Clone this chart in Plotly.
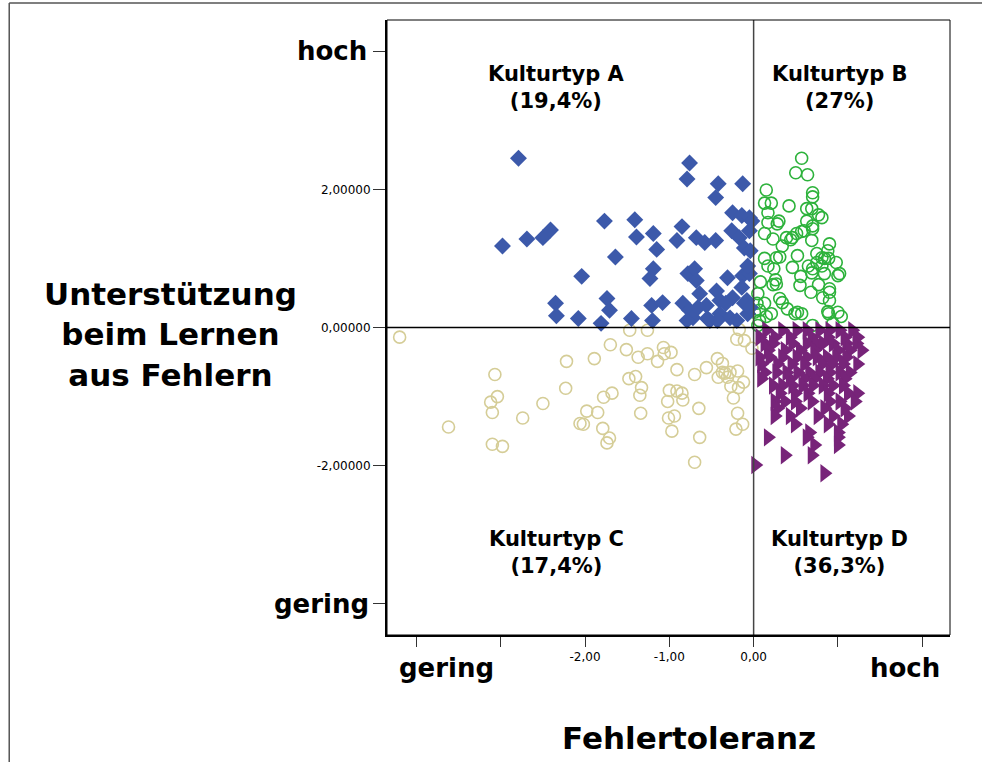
import plotly.graph_objects as go

# ---- data ----
a_x = [-2.79,-2.98,-2.69,-2.50,-2.41,-2.35,-2.34,-2.04,-2.08,-1.77,-1.64,-1.74,-1.71,-1.81,-1.45,-1.41,-1.39,-1.19,-1.15,-1.19,
       -1.23,-1.21,-1.08,-1.20,-0.76,-0.79,-0.42,-0.13,-0.45,-0.85,-0.91,-0.68,-0.58,-0.45,-0.25,-0.14,-0.05,-0.26,-0.17,-0.11,
       -0.05,-0.78,-0.70,-0.68,-0.31,-0.13,-0.05,-0.84,-0.76,-0.72,-0.64,-0.56,-0.44,-0.40,-0.40,-0.28,-0.25,-0.14,-0.08,-0.07,
       -0.79,-0.52,-0.66,-0.43,-0.20,-0.33,-0.55,-0.11,-0.04,-0.07,-0.04,-0.02]
a_y = [2.45,1.18,1.28,1.30,1.41,0.35,0.17,0.74,0.13,1.54,1.02,0.42,0.25,0.06,0.13,1.56,1.31,1.36,1.13,0.85,
       0.71,0.32,0.36,0.10,2.38,2.15,2.08,2.08,1.88,1.46,1.26,1.30,1.23,1.26,1.66,1.62,1.59,1.40,1.30,1.15,
       1.40,0.78,0.85,0.68,0.72,0.75,0.78,0.35,0.25,0.14,0.49,0.32,0.53,0.39,0.20,0.14,0.43,0.58,0.39,0.20,
       0.10,0.10,0.29,0.10,0.10,0.35,0.13,0.35,1.11,0.89,0.29,1.54]

b_x = [0.57,0.50,0.64,0.15,0.70,0.70,0.13,0.21,0.42,0.17,0.63,0.69,0.77,0.81,0.17,0.30,0.28,0.63,0.70,0.70,
       0.60,0.57,0.13,0.23,0.39,0.46,0.44,0.51,0.69,0.34,0.90,0.13,0.27,0.31,0.52,0.75,0.88,0.81,0.84,0.89,
       0.98,0.17,0.24,0.46,0.65,0.70,0.75,0.81,0.84,1.00,1.02,0.69,0.56,0.08,0.26,0.23,0.27,0.55,0.77,0.90,
       0.68,0.90,0.05,0.31,0.34,0.82,0.90,0.13,0.40,0.52,0.57,0.88,1.00,1.04,0.21,0.04,0.01,0.07,0.94,0.70,
       0.15,0.49,0.89,0.05,0.07]
b_y = [2.45,2.24,2.21,1.99,1.95,1.89,1.80,1.80,1.76,1.66,1.72,1.72,1.63,1.59,1.52,1.54,1.50,1.54,1.47,1.43,
       1.40,1.39,1.36,1.28,1.30,1.30,1.27,1.36,1.26,1.18,1.21,1.00,1.01,1.02,1.04,1.07,1.11,1.01,1.00,1.00,
       0.94,0.89,0.85,0.87,0.89,0.85,0.94,0.89,0.78,0.75,0.78,0.79,0.74,0.66,0.69,0.62,0.63,0.61,0.62,0.56,
       0.51,0.51,0.49,0.42,0.36,0.43,0.39,0.35,0.27,0.22,0.20,0.23,0.22,0.16,0.20,0.35,0.22,0.10,0.06,0.03,
       0.16,0.20,0.20,0.03,0.25]

c_x = [-4.20,-3.07,-2.22,-2.23,-3.04,-3.12,-3.10,-2.50,-2.74,-3.62,-3.10,-2.98,-2.06,-1.47,-1.26,-0.17,-0.20,-0.11,-0.02,-1.70,
       -1.51,-1.37,-1.26,-1.14,-1.07,-1.06,-0.98,-1.89,-0.91,-0.70,-0.56,-0.43,-0.37,-0.37,-0.34,-0.28,-0.19,-0.42,-0.31,-0.12,
       -0.27,-0.18,-1.48,-1.40,-1.33,-1.35,-1.00,-0.91,-0.85,-0.84,-1.02,-1.78,-1.68,-1.98,-1.85,-1.34,-2.02,-1.79,-1.71,-1.74,
       -0.65,-1.01,-0.94,-0.97,-0.64,-0.24,-0.19,-0.13,-0.21,-0.70]
c_y = [-0.14,-0.68,-0.49,-0.88,-1.00,-1.08,-1.23,-1.10,-1.31,-1.44,-1.69,-1.72,-1.39,-0.04,-0.04,-0.03,-0.17,-0.19,-0.30,-0.25,
       -0.32,-0.43,-0.38,-0.49,-0.29,-0.38,-0.36,-0.45,-0.61,-0.68,-0.58,-0.45,-0.52,-0.65,-0.66,-0.65,-0.63,-0.72,-0.72,-0.79,
       -0.85,-0.87,-0.74,-0.71,-0.87,-0.98,-0.91,-0.92,-0.95,-1.05,-1.07,-1.01,-0.95,-1.21,-1.23,-1.24,-1.40,-1.46,-1.60,-1.67,
       -1.17,-1.31,-1.28,-1.50,-1.59,-1.02,-1.24,-1.40,-1.47,-1.95]

d_x = [0.15,0.34,0.51,0.63,0.78,0.90,1.02,1.17,
       0.07,0.25,0.43,0.69,0.88,1.08,1.23,
       0.13,0.23,0.46,0.63,0.75,0.82,0.94,1.10,1.22,
       0.17,0.37,0.55,0.72,1.00,1.14,1.28,
       0.07,0.19,0.34,0.51,0.63,0.75,0.87,0.98,1.10,
       0.09,0.28,0.45,0.60,0.81,0.93,1.06,1.23,
       0.13,0.27,0.39,0.52,0.66,0.78,0.90,1.02,1.14,
       0.09,0.43,0.60,0.72,0.87,1.08,
       0.23,0.34,0.46,0.58,0.70,0.82,0.94,1.06,
       0.31,0.49,0.64,0.88,1.12,1.23,
       0.25,0.37,0.49,0.69,0.90,1.02,1.20,
       0.28,0.55,0.84,1.08,
       0.25,0.43,0.76,0.94,1.12,
       0.49,0.88,1.04,
       0.66,1.00,
       0.17,0.63,1.00,
       0.72,1.00,
       0.37,0.69,
       0.02,0.84]
d_y = [-0.04]*8 + [-0.14]*7 + [-0.23]*9 + [-0.33]*7 + [-0.43]*9 + [-0.53]*8 + [-0.65]*9 + [-0.74]*6 + \
      [-0.84]*8 + [-0.95]*6 + [-1.07]*7 + [-1.17]*4 + [-1.28]*5 + [-1.40]*3 + [-1.52]*2 + [-1.59]*3 + \
      [-1.70]*2 + [-1.85]*2 + [-1.99, -2.11]

x_tickvals = [-4, -3, -2, -1, 0, 1, 2]
x_ticktext = ["", "", "-2,00", "-1,00", "0,00", "", ""]
y_tickvals = [-4, -2, 0, 2, 4]
y_ticktext = ["", "-2,00000", "0,00000", "2,00000", ""]

FONT = "DejaVu Sans, Liberation Sans, Arial, sans-serif"

fig = go.Figure()
fig.add_trace(go.Scatter(x=c_x, y=c_y, mode="markers", name="C",
                         marker=dict(symbol="circle-open", size=12, color="#D5CD97", line=dict(width=1.6))))
fig.add_trace(go.Scatter(x=b_x, y=b_y, mode="markers", name="B",
                         marker=dict(symbol="circle-open", size=12, color="#2DB23B", line=dict(width=1.6))))
fig.add_trace(go.Scatter(x=a_x, y=a_y, mode="markers", name="A",
                         marker=dict(symbol="diamond", size=13, color="#3C59AA", line=dict(width=0))))
fig.add_trace(go.Scatter(x=d_x, y=d_y, mode="markers", name="D",
                         marker=dict(symbol="triangle-right", size=16, color="#772479", line=dict(width=0))))

# reference lines
fig.add_shape(type="line", xref="x", yref="paper", x0=0, x1=0, y0=0, y1=1,
              line=dict(color="#444444", width=1.5), layer="above")
fig.add_shape(type="line", xref="paper", yref="y", x0=0, x1=1, y0=0, y1=0,
              line=dict(color="#000000", width=1.5), layer="above")
# plot frame
fig.add_shape(type="rect", xref="paper", yref="paper", x0=0, x1=1, y0=0, y1=1,
              line=dict(color="#000000", width=1), layer="above")
# outer border
fig.add_shape(type="line", xref="paper", yref="paper", x0=-0.671, x1=-0.671, y0=-0.21, y1=1.0276,
              line=dict(color="#555555", width=1.5))
fig.add_shape(type="line", xref="paper", yref="paper", x0=-0.671, x1=1.06, y0=1.0276, y1=1.0276,
              line=dict(color="#555555", width=1.5))

ann = []
def lab(text, x, y, size, xref="x", yref="y", xanchor="center", yanchor="middle"):
    ann.append(dict(text=text, x=x, y=y, xref=xref, yref=yref, showarrow=False,
                    xanchor=xanchor, yanchor=yanchor,
                    font=dict(family=FONT, size=size, color="black")))

lab("<b>Kulturtyp A</b><br><b>(19,4%)</b>", -2.34, 3.48, 21)
lab("<b>Kulturtyp B</b><br><b>(27%)</b>", 1.02, 3.48, 21)
lab("<b>Kulturtyp C</b><br><b>(17,4%)</b>", -2.34, -3.26, 21)
lab("<b>Kulturtyp D</b><br><b>(36,3%)</b>", 1.02, -3.26, 21)
lab("<b>hoch</b>", -0.032, 4.0, 26, xref="paper", xanchor="right")
lab("<b>gering</b>", -0.029, -4.0, 26, xref="paper", xanchor="right")
lab("<b>gering</b>", -3.64, -0.054, 26, yref="paper")
lab("<b>hoch</b>", 1.80, -0.054, 26, yref="paper")
lab("<b>Unterstützung</b><br><b>beim Lernen</b><br><b>aus Fehlern</b>", -0.385, 0.488, 31, xref="paper", yref="paper")
lab("<b>Fehlertoleranz</b>", 0.536, -0.1675, 31, xref="paper", yref="paper")

fig.update_layout(
    width=982, height=762,
    margin=dict(l=387, r=32, t=20, b=127),
    paper_bgcolor="white", plot_bgcolor="white",
    showlegend=False,
    annotations=ann,
    font=dict(family=FONT, color="black"),
    xaxis=dict(range=[-4.35, 2.33], tickvals=x_tickvals, ticktext=x_ticktext,
               showgrid=False, zeroline=False, showline=True, linecolor="black", linewidth=2,
               ticks="outside", ticklen=10, tickwidth=1.2, tickcolor="#333333",
               tickfont=dict(family=FONT, size=12, color="black")),
    yaxis=dict(range=[-4.45, 4.45], tickvals=y_tickvals, ticktext=y_ticktext,
               showgrid=False, zeroline=False, showline=True, linecolor="black", linewidth=2,
               ticks="outside", ticklen=12, tickwidth=1.2, tickcolor="#333333",
               tickfont=dict(family=FONT, size=12, color="black")),
)

fig.write_html("out.html", config={"displayModeBar": False},
               post_script="document.body.style.margin='0';document.body.style.overflow='hidden';")
